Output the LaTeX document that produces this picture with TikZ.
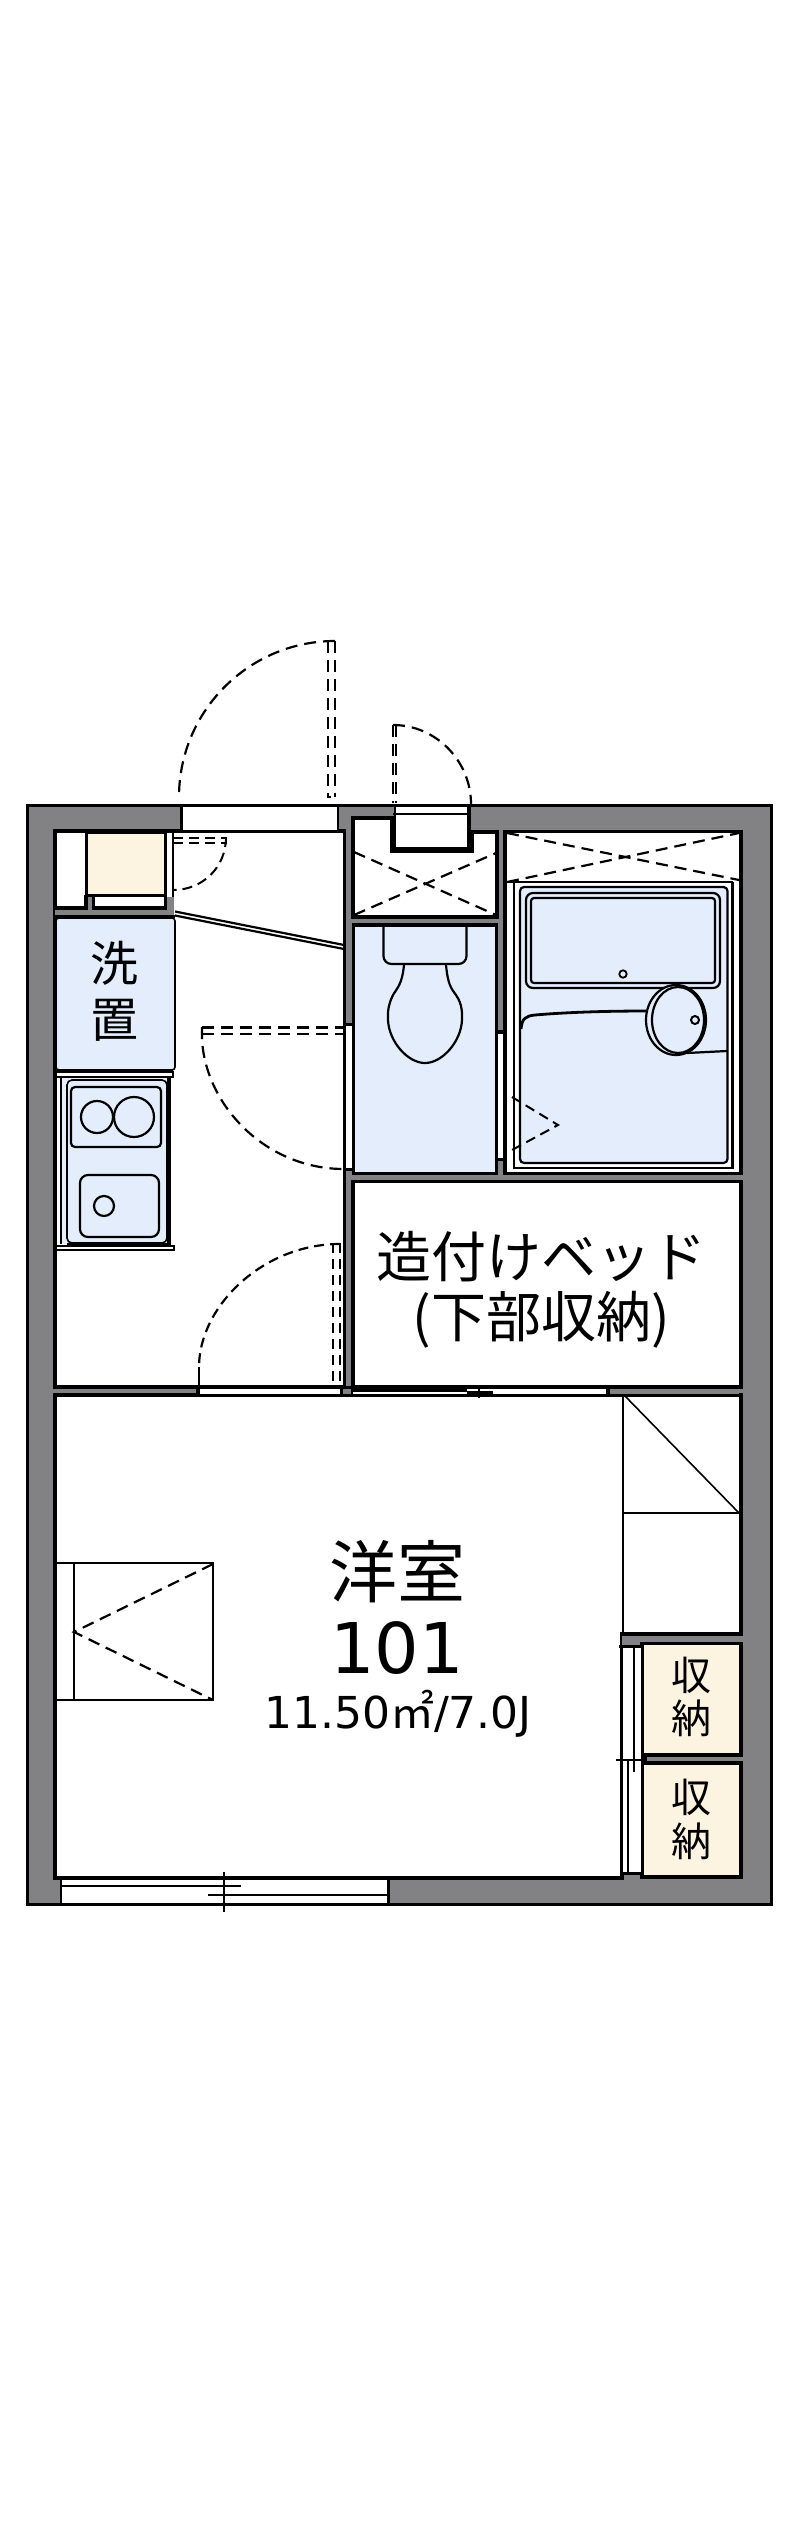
\documentclass[tikz,border=0pt]{standalone}
\usepackage{fontspec}
\setmainfont{Noto Sans CJK JP}
\newfontfamily\digitfont{DejaVu Sans}
\definecolor{wallgray}{HTML}{828285}
\definecolor{roomblue}{HTML}{E3EDFC}
\definecolor{roomcream}{HTML}{FDF3E1}
\tikzset{
  line join=miter,
  wall/.style={draw=black,line width=3.5pt},
  thin line/.style={draw=black,line width=1.6pt},
  med line/.style={draw=black,line width=2.2pt},
  dash line/.style={draw=black,line width=2.2pt,dash pattern=on 12pt off 7pt},
  short dash/.style={draw=black,line width=2pt,dash pattern=on 10pt off 6pt},
  label/.style={inner sep=0pt,outer sep=0pt,text=black,align=center}
}
\newcommand{\fs}[1]{\fontsize{#1}{#1}\selectfont}
\begin{document}
\begin{tikzpicture}[x=1pt,y=-1pt]
\useasboundingbox (0,0) rectangle (800,2539);
\fill[white] (0,0) rectangle (800,2539);
% outer shell
\filldraw[fill=wallgray,draw=black,line width=3pt] (27.5,805) rectangle (771,1904.5);
% hall
\filldraw[fill=white,wall] (55,831) rectangle (344.5,1387);
% compartment above toilet
\filldraw[fill=white,wall] (353,818) -- (392,818) -- (392,850) -- (470,850) -- (470,832) -- (497,832) -- (497,917) -- (353,917) -- cycle;
% toilet
\filldraw[fill=roomblue,wall] (353.5,925) rectangle (496.5,1173.5);
% bath
\filldraw[fill=white,wall] (505,831.5) rectangle (741,1173.5);
% bed
\filldraw[fill=white,wall] (353,1181.5) rectangle (741,1387);
% main room
\filldraw[fill=white,wall] (55,1395) -- (741,1395) -- (741,1634) -- (622,1634) -- (622,1878) -- (55,1878) -- cycle;
% closets
\filldraw[fill=roomcream,wall] (642,1643.5) rectangle (741,1755);
\filldraw[fill=roomcream,wall] (642,1763) rectangle (741,1877);
% entrance opening
\fill[white] (181,806.5) rectangle (338,829.5);
\draw[wall,line width=3pt] (181,805) -- (181,832);
\draw[thin line] (338,805) -- (338,832);
% small top door recess
\fill[white] (395,806.5) rectangle (468,848);
\fill[black] (390,816) rectangle (396,853);
\fill[black] (393.5,805) rectangle (396,816);
\fill[black] (467,805) rectangle (471,853);
\fill[black] (467,832) rectangle (474,853);
\fill[black] (390,847) rectangle (474,853);
\draw[med line] (393,814) -- (469,814);
% dashed door leaves and swings
\draw[dash line] (335,641) .. controls (249,641) and (179,711) .. (179,797);
\draw[dash line] (328,641) -- (328,797) -- (331,797);
\draw[dash line] (335,641) -- (335,797);
\draw[dash line] (393,725) -- (393,803);
\draw[dash line] (396,725) -- (396,803);
\draw[dash line] (393,725) .. controls (436,725) and (471,761) .. (471,804);
% closet upper left
\draw[med line] (173,831) -- (173,908);
\filldraw[fill=roomcream,med line] (86.5,833) rectangle (165.5,895.5);
\fill[black] (84,895) rectangle (95,908);
\fill[white] (95,897.5) rectangle (163.5,906);
\fill[black] (163.5,895) rectangle (167,908);
\fill[wallgray] (167,897) rectangle (173.5,914);
\draw[wall] (55,908) -- (167,908);
\fill[wallgray] (55,910) rectangle (173.5,914.5);
\fill[wallgray] (88,897) rectangle (92,914);
\draw[wall] (55,916.5) -- (175,916.5);
\draw[short dash] (173,837.5) -- (227,837.5);
\draw[short dash] (173,843) -- (227,843);
\draw[short dash] (226,837) .. controls (226,868) and (202,890) .. (173,890);
% diagonal double line
\draw[med line] (175,911.5) -- (344,945);
\draw[med line] (175,915.5) -- (344,949);
% hall / toilet wall opening
\fill[white] (346,1024) rectangle (351.5,1168);
\draw[thin line] (345,1024) -- (345,1168);
\draw[med line] (353,1024) -- (353,1168);
\draw[line width=3pt] (343,1024) -- (354,1024);
\draw[line width=3pt] (343,1169.5) -- (354,1169.5);
\draw[dash line] (202,1027.5) -- (344,1027.5);
\draw[dash line] (202,1034) -- (344,1034);
\draw[dash line] (202,1027) -- (202,1040) .. controls (206,1106) and (266,1169) .. (344,1169);
% toilet / bath wall opening
\fill[white] (498,1032) rectangle (503,1159);
\draw[thin line] (497,1032) -- (497,1159);
\draw[med line] (504.5,1032) -- (504.5,1159);
\draw[line width=3.5pt] (495.5,1032) -- (506,1032);
\draw[line width=3.5pt] (495.5,1159.5) -- (506,1159.5);
% X marks
\draw[dash line] (354,852) -- (496,915);
\draw[dash line] (354,915) -- (496,853);
\draw[dash line] (507,833) -- (739,880);
\draw[dash line] (507,882) -- (739,833);
% toilet fixture
\filldraw[fill=roomblue,med line,rounded corners=8pt] (383.5,927) -- (383.5,964) -- (466.5,964) -- (466.5,927);
\draw[med line] (404,965) .. controls (402,985) and (397,988) .. (393,995) .. controls (387,1007) and (388,1015) .. (388,1020) .. controls (389,1042) and (408,1063) .. (425,1063) .. controls (442,1063) and (461,1042) .. (462,1020) .. controls (462,1015) and (463,1005) .. (456,995) .. controls (451,988) and (448,985) .. (446,965);
% bath unit
\draw[thin line] (507,882) -- (733,882);
\draw[med line] (514,882) -- (514,1168) -- (732.5,1168) -- (732.5,882);
\filldraw[fill=roomblue,med line,rounded corners=4pt] (520,887) rectangle (727.5,1163);
\filldraw[fill=roomblue,med line,rounded corners=7pt] (526,893) rectangle (720,988);
\filldraw[fill=roomblue,med line,rounded corners=3pt] (531,898) rectangle (715,983);
\draw[black,line width=1.8pt] (623,974) circle (3.7);
\draw[line width=2.8pt] (521,1029) .. controls (522,1018) and (526,1016) .. (535,1015) .. controls (570,1012) and (610,1011) .. (647,1011);
\filldraw[fill=roomblue,med line] (676,1020) ellipse (30 and 35);
\draw[med line] (678,1020) ellipse (26 and 33);
\draw[black,line width=2pt] (695,1020) circle (4);
\draw[med line] (687,1053) -- (727,1051);
\draw[short dash] (512,1097) -- (558,1125) -- (512,1150);
% kitchen
\fill[roomblue] (57,1077) rectangle (168,1244);
\fill[white] (57,1077) rectangle (61,1244);
\draw[thin line] (61,1077) -- (61,1244);
\filldraw[fill=roomblue,thin line,rounded corners=5pt] (67,1080) rectangle (167,1243);
\draw[line width=4pt] (169,1077) -- (169,1246);
\draw[line width=3pt] (67,1244) -- (170,1244);
\draw[line width=3pt] (57,1071.5) -- (173,1071.5);
\draw[thin line] (57,1077) -- (173,1077) -- (173,1071);
\draw[thin line] (57,1246) -- (174,1246);
\draw[med line] (57,1250) -- (174,1250) -- (174,1245);
\draw[med line,rounded corners=4pt] (71,1087) rectangle (161,1147);
\draw[med line] (97,1117) circle (16);
\draw[med line] (134,1117) circle (20);
\draw[med line,rounded corners=8pt] (80,1175) rectangle (159,1237);
\draw[med line] (104,1206) circle (10);
% washer
\filldraw[fill=roomblue,thin line,rounded corners=3pt] (56,918) rectangle (175,1070);
\draw[wall,line width=3pt] (55,918) -- (55,1070);
% hall lower door
\draw[short dash,line width=1.8pt] (333,1243) -- (333,1385);
\draw[short dash,line width=1.8pt] (340,1243) -- (340,1385);
\draw[short dash,line width=2.2pt] (340,1244) .. controls (262,1244) and (199,1307) .. (199,1367);
\draw[med line] (199,1367) -- (199,1387);
% hall / main opening
\fill[white] (199,1388.5) rectangle (340,1393.5);
\draw[thin line] (199,1387) -- (340,1387);
\draw[med line] (199,1395) -- (340,1395);
\fill[black] (196,1385) rectangle (200,1397);
\filldraw[fill=wallgray,draw=black,line width=3pt] (341,1387) rectangle (352,1395);
% bed bottom sliding door
\fill[white] (353,1388.5) rectangle (607,1393.5);
\draw[med line] (353,1387) -- (607,1387);
\draw[wall,line width=2.6pt] (353,1395) -- (622,1395);
\draw[med line] (353,1390.5) -- (467,1390.5);
\draw[line width=3pt] (467,1392) -- (493,1392);
\draw[thin line] (479,1385) -- (479,1398);
\fill[wallgray] (609,1389) rectangle (739,1393.5);
\fill[black] (606,1386) rectangle (610,1397);
% stairs
\draw[thin line] (623,1396) -- (623,1634);
\draw[thin line] (623,1513) -- (739,1513);
\draw[thin line] (625,1396) -- (739,1513);
% cabinet in main room
\draw[med line] (56,1563) -- (213,1563) -- (213,1700) -- (56,1700);
\draw[med line] (74,1563) -- (74,1700);
\draw[dash line] (213,1564) -- (74,1632) -- (213,1700);
% right closet doors
\fill[wallgray] (622,1636) rectangle (640,1646);
\fill[white] (623,1647) rectangle (641,1872);
\draw[med line] (622,1646) -- (622,1878);
\draw[wall,line width=2.4pt] (642,1646) -- (642,1873);
\draw[thin line] (628,1760) -- (628,1873);
\draw[thin line] (634,1648) -- (634,1772);
\draw[line width=3pt] (619,1646.5) -- (643,1646.5);
\draw[line width=3pt] (620,1873) -- (643,1873);
\draw[thin line] (616,1760) -- (647,1760);
\fill[black] (642,1755) rectangle (647,1765);
% window
\fill[white] (62,1879.5) rectangle (388,1902.5);
\draw[line width=2.6pt] (61,1877) -- (61,1904);
\draw[line width=3pt] (388.5,1877) -- (388.5,1904);
\draw[thin line] (61,1886) -- (241,1886);
\draw[thin line] (208,1895) -- (388,1895);
\draw[thin line] (224,1872) -- (224,1912);
% labels
\node[label] (wash1) at (114,963) {\fs{48}洗};
\node[label] (wash2) at (114,1020) {\fs{48}置};
\node[label] (bed1) at (541,1257) {\fs{55}造付けベッド};
\node[label] (bed2) at (541,1320) {\fs{55}(下部収納)};
\node[label] (room1) at (397,1572) {\fs{68}洋室};
\node[label] (room2) at (397,1648) {\fs{70}\digitfont 101};
\node[label] (room3) at (398,1714) {\fs{44}{\digitfont 11.50}㎡{\digitfont /7.0J}};
\node[label] (st1) at (691,1675) {\fs{40}収};
\node[label] (st2) at (691,1718) {\fs{40}納};
\node[label] (st3) at (691,1797) {\fs{40}収};
\node[label] (st4) at (691,1841) {\fs{40}納};
\end{tikzpicture}
\end{document}
